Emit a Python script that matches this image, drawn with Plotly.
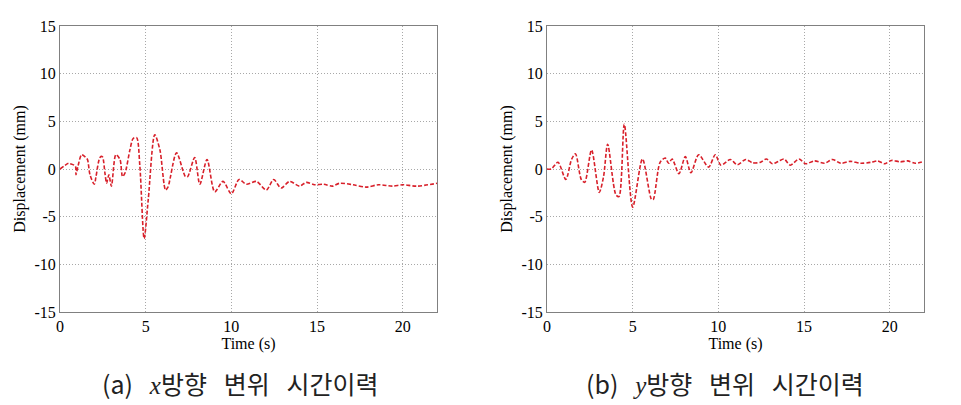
import plotly.graph_objects as go

# x-direction displacement (left panel)
t_x = [0, 0.5, 0.6, 0.9, 0.93, 1.05, 1.26, 1.45, 1.6, 1.75, 2.0, 2.1, 2.33, 2.47, 2.62, 2.72, 2.85, 3.0,
       3.26, 3.5, 3.65, 3.8, 4.08, 4.27, 4.47, 4.66, 4.91, 5.15, 5.53, 5.83, 6.16, 6.3, 6.8, 7.32, 7.45,
       7.86, 8.16, 8.58, 9.03, 9.51, 10.0, 10.45, 10.87, 11.46, 12.04, 12.47, 12.9, 13.4, 13.98, 14.37,
       14.85, 15.4, 15.9, 16.3, 17.1, 17.86, 18.6, 19.4, 20.0, 20.8, 22.0]
d_x = [0, 0.6, 0.55, 0.3, -0.6, 0.3, 1.5, 1.3, 1.0, -0.6, -1.6, -0.8, 1.2, 1.3, -0.4, -1.5, -0.6, -1.8,
       1.5, 1.0, -0.8, -0.4, 2.0, 3.2, 3.3, 0.3, -7.3, -3.2, 3.6, 2.0, -2.2, -1.9, 1.7, -0.8, -0.8,
       1.2, -1.6, 1.0, -2.4, -1.3, -2.6, -1.1, -1.6, -1.3, -2.2, -1.1, -2.0, -1.3, -1.8, -1.4,
       -1.65, -1.6, -1.8, -1.5, -1.65, -1.9, -1.65, -1.8, -1.65, -1.8, -1.5]

# y-direction displacement (right panel)
t_y = [0, 0.25, 0.64, 1.1, 1.43, 1.66, 2.0, 2.2, 2.6, 3.05, 3.3, 3.54, 4.02, 4.2, 4.51, 5.0, 5.57, 6.1,
       6.2, 6.6, 6.9, 7.1, 7.3, 7.7, 8.07, 8.4, 8.85, 9.43, 9.82, 10.15, 10.7, 11.1, 11.6, 12.0, 12.46,
       12.8, 13.15, 13.5, 13.83, 14.2, 14.7, 15.1, 15.6, 16.2, 16.66, 17.15, 17.7, 18.3, 18.9, 19.3,
       19.7, 20.1, 20.6, 21.05, 21.5, 22.0]
d_y = [0, 0, 0.7, -1.1, 1.0, 1.6, -1.1, -1.4, 2.0, -2.45, -0.8, 2.6, -2.7, -2.9, 4.7, -4.0, 1.05, -3.2,
       -3.2, 0.7, 1.15, 0.6, 1.05, -0.5, 1.3, -0.4, 1.5, 0.2, 1.5, 0.4, 1.0, 0.45, 1.0, 0.65, 0.7,
       1.05, 0.55, 0.8, 1.05, 0.4, 1.05, 0.55, 0.85, 0.6, 1.0, 0.6, 0.8, 0.6, 0.7, 0.85,
       0.55, 0.9, 0.75, 0.85, 0.6, 0.8]

x_ticks = [0, 5, 10, 15, 20]
x_tick_text = ["0", "5", "10", "15", "20"]
y_ticks = [-15, -10, -5, 0, 5, 10, 15]
y_tick_text = ["-15", "-10", "-5", "0", "5", "10", "15"]
captions = ["(a)   <span style='font-family:Liberation Serif;font-style:italic'>x</span>방향   변위   시간이력",
            "(b)   <span style='font-family:Liberation Serif;font-style:italic'>y</span>방향   변위   시간이력"]

W, H = 961, 405
fig = go.Figure()
line = dict(color="#d8202a", width=1.6, dash="4px,2px", shape="spline", smoothing=0.8)
fig.add_trace(go.Scatter(x=t_x, y=d_x, mode="lines", line=line, xaxis="x", yaxis="y", showlegend=False))
fig.add_trace(go.Scatter(x=t_y, y=d_y, mode="lines", line=line, xaxis="x2", yaxis="y2", showlegend=False))

serif = dict(family="Liberation Serif", size=16, color="black")
ydom = [1 - 312 / H, 1 - 26 / H]
common_x = dict(range=[0, 22], tickvals=x_ticks, ticktext=x_tick_text, showgrid=True, gridcolor="#a8a8a8",
                griddash="1px,2px", gridwidth=1, showline=True, linecolor="#808080", linewidth=1,
                mirror=True, automargin=False, zeroline=False, tickfont=serif, ticks="",
                ticklabelstandoff=0, title=dict(text="Time (s)", font=serif, standoff=0))
common_y = dict(range=[-15, 15], tickvals=y_ticks, ticktext=y_tick_text, showgrid=True, gridcolor="#a8a8a8",
                griddash="1px,2px", gridwidth=1, showline=True, linecolor="#808080", linewidth=1,
                mirror=True, automargin=False, zeroline=False, tickfont=serif, ticks="", domain=ydom,
                title=dict(text="Displacement (mm)", font=serif, standoff=4))

fig.update_layout(
    width=W, height=H, margin=dict(l=0, r=0, t=0, b=0),
    paper_bgcolor="white", plot_bgcolor="white",
    xaxis=dict(domain=[60 / W, 437 / W], anchor="y", **common_x),
    yaxis=dict(anchor="x", **common_y),
    xaxis2=dict(domain=[547 / W, 924 / W], anchor="y2", **common_x),
    yaxis2=dict(anchor="x2", **common_y),
)

for cap, cx in zip(captions, [240, 725]):
    fig.add_annotation(text=cap, x=cx / W, y=1 - 383 / H, xref="paper", yref="paper",
                       showarrow=False, xanchor="center", yanchor="middle",
                       font=dict(family="Noto Sans CJK KR", size=25, color="#222"))

fig.write_html("out.html", config={"displayModeBar": False},
               post_script="document.body.style.margin='0';")
